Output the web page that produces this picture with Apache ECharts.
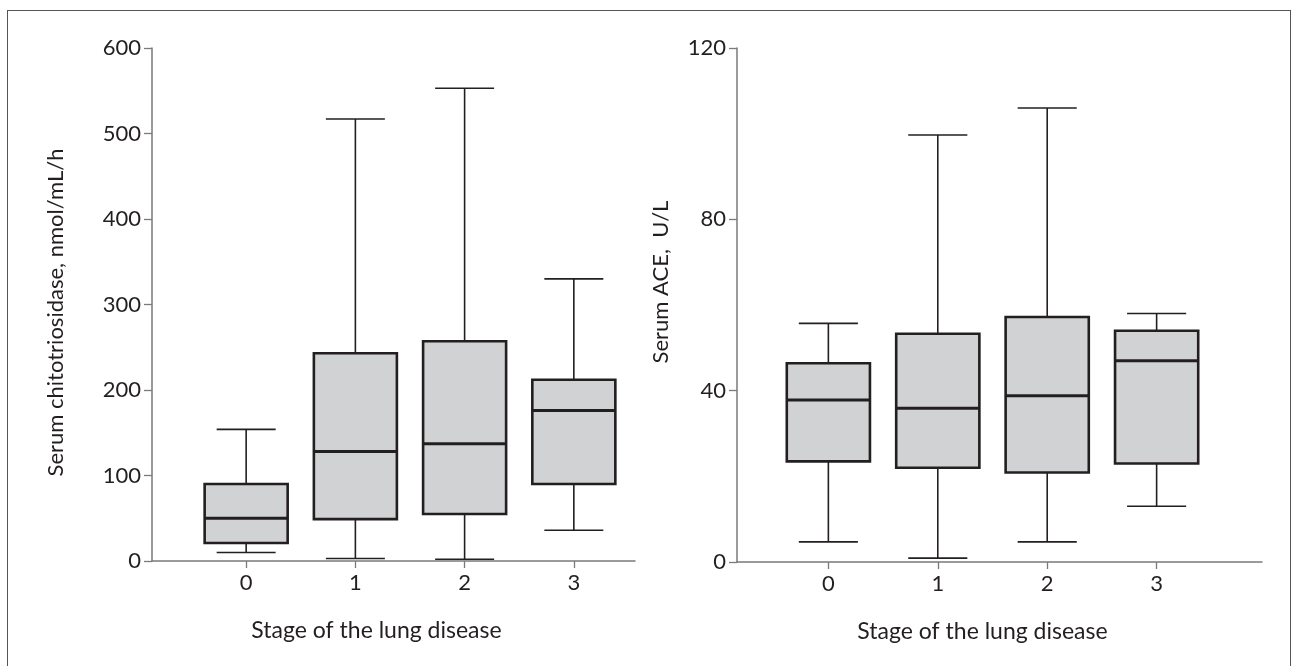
<!DOCTYPE html>
<html>
<head>
<meta charset="utf-8">
<script src="https://cdn.jsdelivr.net/npm/echarts@6/dist/echarts.min.js"></script>
<style>
html,body{margin:0;padding:0;background:#fff;}
#frame{position:absolute;left:7px;top:10px;width:1284px;height:670px;border:1.5px solid #555;box-sizing:border-box;}
#chart{position:absolute;left:0;top:0;width:1299px;height:666px;}
</style>
</head>
<body>
<div id="frame"></div>
<div id="chart"></div>
<script>
// Stage categories (x positions)
const stages = [0, 1, 2, 3];
const stageLabels = ['0', '1', '2', '3'];
// Left panel: serum chitotriosidase, nmol/mL/h  [min, Q1, median, Q3, max]
const chitoMin    = [10, 3, 2, 36];
const chitoQ1     = [21, 49, 55, 90];
const chitoMedian = [50, 128, 137, 176];
const chitoQ3     = [90, 243, 257, 212];
const chitoMax    = [154, 517, 553, 330];
// Right panel: serum ACE, U/L
const aceMin    = [4.7, 0.9, 4.7, 13.0];
const aceQ1     = [23.5, 22.0, 20.9, 23.0];
const aceMedian = [37.8, 35.9, 38.8, 47.0];
const aceQ3     = [46.4, 53.3, 57.2, 54.0];
const aceMax    = [55.7, 99.7, 106.0, 58.0];
// Axis ticks
const chitoTicks = [0, 100, 200, 300, 400, 500, 600];
const aceTicks = [0, 40, 80, 120];

function rows(mn, q1, md, q3, mx) {
  return stages.map((s, i) => [s, mn[i], q1[i], md[i], q3[i], mx[i]]);
}

const DARK = '#231f20';
const AXIS = '#7a7a7a';
const FILL = '#d1d2d4';
const FONT = 'Lato';

function renderBox(params, api) {
  const x = api.value(0);
  const pMin = api.coord([x, api.value(1)]);
  const pQ1 = api.coord([x, api.value(2)]);
  const pMd = api.coord([x, api.value(3)]);
  const pQ3 = api.coord([x, api.value(4)]);
  const pMax = api.coord([x, api.value(5)]);
  const bw = api.size([0.76, 0])[0];
  const cw = api.size([0.54, 0])[0];
  const cx = pMd[0];
  const thin = {stroke: DARK, lineWidth: 1.6};
  return {
    type: 'group',
    children: [
      {type: 'line', shape: {x1: cx, y1: pQ3[1], x2: cx, y2: pMax[1]}, style: thin},
      {type: 'line', shape: {x1: cx, y1: pQ1[1], x2: cx, y2: pMin[1]}, style: thin},
      {type: 'line', shape: {x1: cx - cw / 2, y1: pMax[1], x2: cx + cw / 2, y2: pMax[1]}, style: thin},
      {type: 'line', shape: {x1: cx - cw / 2, y1: pMin[1], x2: cx + cw / 2, y2: pMin[1]}, style: thin},
      {type: 'rect', shape: {x: cx - bw / 2, y: pQ3[1], width: bw, height: pQ1[1] - pQ3[1]},
        style: {fill: FILL, stroke: DARK, lineWidth: 2.6}},
      {type: 'line', shape: {x1: cx - bw / 2, y1: pMd[1], x2: cx + bw / 2, y2: pMd[1]},
        style: {stroke: DARK, lineWidth: 3}}
    ]
  };
}

function xAxisCfg(gridIndex, min, max) {
  return {
    type: 'value', gridIndex, min, max,
    name: 'Stage of the lung disease', nameLocation: 'middle', nameGap: 58,
    nameTextStyle: {fontFamily: FONT, fontSize: 23, color: DARK, padding: [0, 34, 0, 0]},
    splitLine: {show: false},
    axisLine: {show: true, onZero: false, lineStyle: {color: AXIS, width: 1.5}},
    axisTick: {show: true, customValues: stages, length: 7, lineStyle: {color: AXIS, width: 1.3}},
    axisLabel: {show: true, customValues: stages, formatter: v => stageLabels[stages.indexOf(v)] ?? '',
      fontFamily: FONT, fontSize: 22, color: DARK, margin: 11}
  };
}
function yAxisCfg(gridIndex, max, interval, name, nameGap, padding) {
  return {
    type: 'value', gridIndex, min: 0, max, interval,
    name, nameLocation: 'middle', nameGap,
    nameTextStyle: {fontFamily: FONT, fontSize: 22, color: DARK, padding},
    splitLine: {show: false},
    axisLine: {show: true, onZero: false, lineStyle: {color: AXIS, width: 1.5}},
    axisTick: {show: true, length: 8, lineStyle: {color: AXIS, width: 1.3}},
    axisLabel: {fontFamily: FONT, fontSize: 22, color: DARK, margin: 11}
  };
}

const chart = echarts.init(document.getElementById('chart'), null, {renderer: 'canvas'});
chart.setOption({
  backgroundColor: 'transparent',
  animation: false,
  grid: [
    {left: 152, top: 48, width: 483, height: 513},
    {left: 737, top: 48, width: 525, height: 514}
  ],
  xAxis: [xAxisCfg(0, -0.862, 3.56), xAxisCfg(1, -0.835, 3.963)],
  yAxis: [
    yAxisCfg(0, chitoTicks[chitoTicks.length - 1], 100, 'Serum chitotriosidase, nmol/mL/h', 85, [0, 16, 0, 0]),
    yAxisCfg(1, aceTicks[aceTicks.length - 1], 40, 'Serum ACE,  U/L', 65, [0, 0, 0, 46])
  ],
  series: [
    {type: 'custom', xAxisIndex: 0, yAxisIndex: 0, renderItem: renderBox,
      encode: {x: 0, y: [1, 2, 3, 4, 5]}, data: rows(chitoMin, chitoQ1, chitoMedian, chitoQ3, chitoMax)},
    {type: 'custom', xAxisIndex: 1, yAxisIndex: 1, renderItem: renderBox,
      encode: {x: 0, y: [1, 2, 3, 4, 5]}, data: rows(aceMin, aceQ1, aceMedian, aceQ3, aceMax)}
  ]
});
</script>
</body>
</html>
